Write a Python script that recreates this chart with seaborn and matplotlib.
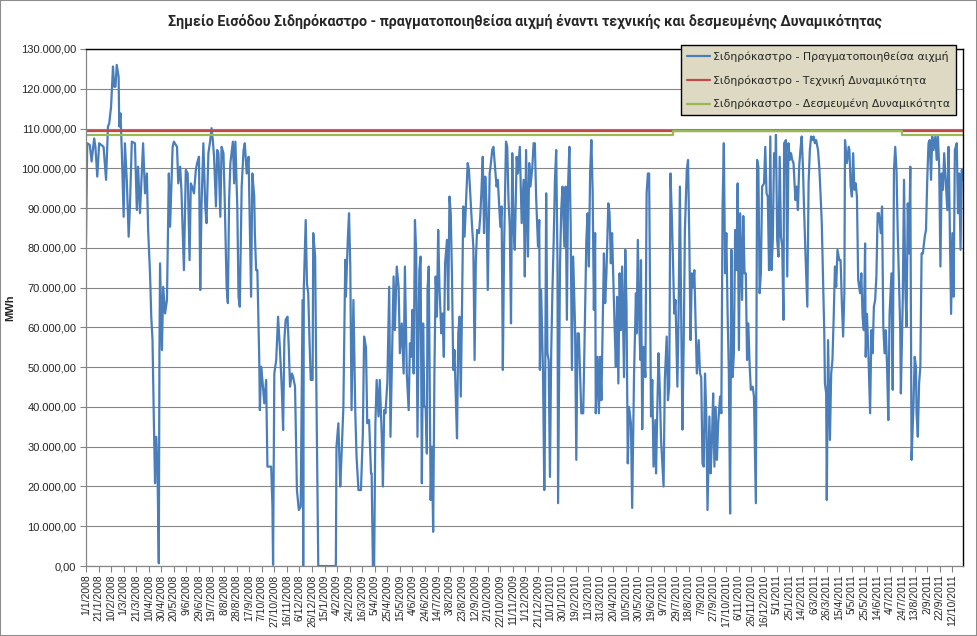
import matplotlib
matplotlib.use("Agg")
import pandas as pd
import matplotlib.pyplot as plt
import matplotlib.patches as patches
import seaborn as sns
from matplotlib.ticker import FuncFormatter, MultipleLocator

# Daily peak at Sidirokastro entry point (days since 1/1/2008, thousand MWh)
start = pd.Timestamp("2008-01-01")
end = pd.Timestamp("2011-10-29")

day = [
    0, 2, 6, 9, 13, 15, 18, 21, 28, 32, 35, 37, 40, 43, 45, 47, 49, 52, 53, 55, 57, 60, 62, 65, 68, 70,
    73, 78, 81, 83, 86, 89, 91, 94, 97, 99, 102, 104, 106, 108, 110, 112, 114, 116, 117, 118, 121, 123,
    126, 129, 132, 134, 138, 140, 145, 147, 150, 152, 156, 159,
    162, 165, 167, 169, 172, 175, 177, 180, 182, 184, 187, 190, 192, 195, 198, 200, 202, 204, 207, 209,
    211, 214, 216, 219, 221, 224, 226, 228, 230, 234, 236, 238, 241, 243, 245, 248, 251, 253, 256, 259,
    261, 263, 265, 268, 269, 271, 273, 276, 277, 279, 281, 284, 287, 289, 295, 297, 298, 300, 303, 306,
    309, 312, 314, 316, 318, 321, 323, 325, 328, 330, 333, 336, 339, 342,
    345, 346, 347, 350, 352, 354, 356, 358, 361, 362, 365, 367, 370, 398, 399, 402, 405, 407, 410, 413,
    414, 417, 419, 421, 423, 426, 429, 431, 434, 438, 441, 443, 446, 448, 451, 454, 455, 457, 459, 461,
    463, 466, 468, 471, 473, 475, 477, 480, 483, 485, 487, 490, 492, 495, 498, 500, 503, 506, 508,
    511, 514, 516, 518, 520, 522, 524, 526, 528, 531, 533, 535, 537, 539, 541, 543, 544, 546, 549, 551,
    553, 555, 557, 559, 561, 563, 566, 568, 570, 572, 575, 577, 579, 581, 583, 585, 587, 589, 591, 593,
    595, 597, 599, 601, 603, 605, 608, 610, 612, 615, 617, 619, 621, 623, 626, 628, 630, 632, 634, 636,
    638, 640, 643, 645, 647, 649, 652, 654, 656, 658, 660, 662, 664, 666, 669, 671, 673, 675, 677, 679,
    681, 683, 686, 688,
    691, 694, 697, 699, 701, 704, 706, 708, 711, 713, 715, 717, 720, 722, 723, 725, 728, 730, 731, 733,
    735, 737, 739, 741, 743, 745, 747, 749, 751, 752, 755, 757, 759, 762, 764, 766, 768, 770, 772, 774,
    776, 779, 781, 783, 785, 787, 789, 792, 794, 797, 799, 801, 803, 805, 807, 809, 811, 812, 815, 817,
    819, 821, 823, 825, 827, 829, 832, 834, 836, 838, 840, 842, 844, 846, 848, 850, 852, 854, 857, 859,
    861, 863, 865,
    868, 870, 873, 876, 877, 879, 881, 883, 884, 886, 888, 891, 893, 895, 897, 899, 900, 902, 904, 907,
    908, 910, 912, 914, 916, 918, 920, 922, 925, 927, 929, 931, 933, 935, 937, 939, 942, 944, 946, 948,
    950, 952, 954, 957, 959, 961, 963, 965, 967, 969, 971, 973, 976, 978, 980, 982, 984, 986, 988, 990,
    993, 995, 997, 999, 1001, 1003, 1005, 1007, 1010, 1012, 1014, 1016, 1018, 1020, 1022, 1024, 1026,
    1028, 1030, 1032, 1034, 1036, 1038, 1040,
    1042, 1045, 1047, 1049, 1051, 1053, 1055, 1057, 1059, 1062, 1064, 1066, 1067, 1069, 1071, 1073, 1075,
    1077, 1080, 1082, 1084, 1086, 1088, 1090, 1092, 1094, 1096, 1098, 1099, 1101, 1103, 1105, 1107, 1109,
    1111, 1112, 1115, 1117, 1119, 1121, 1123, 1125, 1127, 1130, 1132, 1134, 1136, 1138, 1140, 1142, 1144,
    1146, 1149, 1151, 1153, 1155, 1157, 1159, 1161, 1163, 1166, 1168, 1170, 1172, 1174, 1176, 1177, 1179,
    1180, 1182, 1184, 1185, 1187, 1189, 1191, 1193, 1195, 1197, 1200, 1202, 1204, 1206, 1208, 1209,
    1212, 1215, 1216, 1218, 1220, 1222, 1224, 1226, 1228, 1230, 1233, 1235, 1237, 1239, 1241, 1242, 1244,
    1246, 1249, 1251, 1253, 1255, 1257, 1259, 1261, 1263, 1266, 1268, 1270, 1272, 1274, 1276, 1278, 1280,
    1283, 1285, 1287, 1289, 1291, 1293, 1295, 1297, 1298, 1301, 1303, 1305, 1307, 1309, 1311, 1313, 1315,
    1318, 1320, 1322, 1323, 1325, 1327, 1329, 1331, 1333, 1336, 1338, 1340, 1342, 1344, 1346, 1348, 1350,
    1353, 1355, 1357, 1359, 1361, 1363, 1365, 1367, 1370, 1372, 1374, 1376, 1378, 1380, 1382, 1384, 1387,
    1389, 1391, 1393, 1395, 1397,
]

peak_k = [
    81.1, 106.3, 105.9, 101.7, 107.5, 105.4, 97.9, 106.3, 105.4, 97.1, 110.5, 111.3, 115.5, 125.6, 120.5,
    120.5, 126.0, 123.0, 110.5, 113.8, 104.6, 87.8, 106.3, 97.1, 82.8, 90.4,
    106.7, 106.3, 89.5, 100.4, 88.7, 99.6, 106.3, 93.7, 98.7, 84.5, 73.6, 62.7, 56.8, 37.6, 20.8, 32.5,
    23.3, 0.7, 53.5, 76.1, 54.3, 70.2,
    63.5, 66.9, 98.7, 85.3, 105.4, 106.7, 105.4, 96.2, 100.4, 94.6, 74.4, 99.6,
    98.7, 76.9, 96.2, 95.4, 93.7, 99.6, 101.3, 102.9, 69.4, 90.4, 106.3, 90.4, 86.2, 103.8, 107.1, 110.1,
    107.1, 102.9, 90.4, 104.6,
    103.8, 87.8, 105.4, 103.8, 92.0, 70.2, 66.1, 92.0, 101.3, 106.7, 96.2, 106.7, 90.4, 67.7, 65.2, 95.4,
    104.6, 106.3, 98.7, 102.9,
    85.3, 67.7, 98.7, 92.9, 83.7, 74.4, 74.4, 51.8, 39.2, 50.1, 46.8, 40.9, 46.8, 25.0, 25.0, 14.9, 0.3,
    48.4, 51.8, 62.7,
    54.3, 44.3, 34.2, 56.8, 61.9, 62.7, 55.1, 45.1, 48.4, 47.5, 45.1, 19.1, 14.1, 14.9,
    66.9, 0.0, 70.0, 87.0, 71.0, 68.6, 57.0, 46.8, 46.8, 83.7, 77.8, 44.3, 0.0, 0.0, 30.0, 35.9, 20.0,
    27.5, 40.0, 77.0,
    67.7, 82.0, 88.7, 75.3, 39.2, 66.9, 38.4, 27.5, 19.1, 19.1, 33.4, 57.7, 55.0, 35.9, 36.7, 23.3, 23.3,
    0.0, 0.0, 35.9,
    46.8, 37.6, 46.8, 33.4, 20.0, 39.2, 38.4, 46.1, 70.2, 32.5, 48.4, 72.8, 59.3, 75.3, 70.2, 53.5, 61.0,
    48.4, 75.3,
    48.4, 39.2, 56.0, 52.6, 64.4, 48.4, 87.0, 78.6, 32.5, 74.4, 77.8, 20.8, 61.0, 40.0, 40.0, 28.3, 69.4,
    75.3, 16.6, 30.0,
    8.6, 48.4, 72.8, 62.7, 84.5, 70.2, 58.5, 63.5, 52.6, 76.1, 82.0, 64.4, 92.9, 88.7, 72.8, 49.3, 54.3,
    42.6, 32.1, 58.5,
    62.7, 42.6, 65.2, 90.4, 82.8, 90.4, 101.3, 99.6, 93.7, 85.3, 80.3, 51.8, 76.9, 84.5, 83.7, 87.8, 94.6,
    102.9, 83.7, 97.9,
    90.4, 69.4, 98.7, 101.3, 104.6, 105.4, 99.6, 95.4, 97.1, 91.2, 85.3, 90.4, 49.3, 80.3, 106.7, 105.4,
    92.0, 85.3, 61.0, 103.8,
    85.3, 79.5, 102.9, 98.7,
    105.4, 86.2, 97.1, 72.8, 104.6, 77.8, 101.3, 95.4, 100.4, 106.3, 106.3, 92.9, 80.3, 87.0, 49.3, 69.4,
    48.4, 19.1, 31.7, 93.7,
    53.5, 51.8, 22.4, 53.5, 69.4, 82.0, 97.1, 104.6, 76.9, 15.8, 75.3, 89.5, 95.4, 80.3, 95.4, 61.9, 96.2,
    105.4, 86.2, 49.3,
    77.8, 60.2, 26.7, 58.5, 58.5, 48.4, 38.4, 38.4, 55.1, 82.0, 88.7, 75.3, 98.7, 107.1, 94.6, 64.4, 83.7,
    38.4, 52.6, 38.4,
    52.6, 41.7, 61.0, 78.6, 66.1, 73.6, 91.2, 88.7, 76.1, 83.7, 71.9, 60.2, 50.1, 67.7, 45.9, 73.6, 59.3,
    75.3, 47.5, 79.5,
    65.2, 25.8, 40.0,
    35.9, 14.6, 48.4, 68.6, 58.5, 82.0, 62.7, 51.8, 76.9, 34.4, 55.1, 47.5, 93.7, 98.7, 98.7, 56.8, 37.6,
    46.8, 25.0, 36.7,
    23.3, 39.2, 53.5, 44.3, 31.7, 25.8, 20.0, 46.8, 57.7, 41.7, 45.1, 98.7, 88.7, 76.9, 63.5, 66.9, 45.1,
    64.3, 95.4, 63.5,
    34.3, 55.0, 84.5, 99.6, 102.1, 82.0, 56.8, 73.6, 70.2, 74.4, 61.9, 48.4, 56.8, 48.4, 47.5, 25.8, 25.0,
    48.4, 38.4, 14.1,
    37.6, 23.3, 31.7, 43.4, 25.0, 40.0, 26.7, 35.9, 42.6, 38.4, 90.4, 106.3, 73.6, 83.7, 63.5, 48.4, 13.2,
    79.5, 47.5, 53.5, 84.5, 74.4, 96.2, 54.3,
    88.7, 66.9, 88.0, 73.6, 73.6, 51.8, 61.0, 50.9, 44.3, 45.1, 42.6, 25.0, 15.8, 102.1, 100.4, 68.6, 73.6,
    95.4, 96.2, 105.4, 93.7, 92.9, 74.4, 108.0, 74.4, 82.0, 103.8, 100.4, 108.4, 82.0, 77.8, 102.9, 82.8,
    80.3,
    61.9, 106.3, 107.1, 72.8, 106.3, 102.1, 103.8, 102.1, 101.3, 92.0, 95.4, 89.5, 100.4, 104.6, 108.0,
    100.4, 88.7,
    78.6, 65.2, 96.2, 104.6, 108.0, 107.1, 108.0, 106.3, 107.1, 104.6, 100.4, 93.7, 86.2, 71.9, 58.5, 45.9,
    43.4,
    16.6, 56.8, 40.0, 31.7, 48.4, 51.8, 62.7, 75.3, 70.2, 79.5, 76.9, 76.9, 66.1, 57.7, 68.6, 107.1,
    101.3, 105.4, 104.6, 95.4, 92.9, 103.8, 94.6, 96.2, 92.9, 71.9, 68.6, 73.6, 62.7, 59.3, 81.1, 52.6, 63.4,
    55.0, 38.4, 59.3, 53.5, 65.2, 66.9, 72.8, 88.7, 88.7, 83.7, 90.4, 60.2, 53.5, 59.3, 50.1, 36.7, 63.4,
    73.6, 44.3, 99.6, 105.4, 99.6, 83.7, 71.9, 59.3, 43.4, 66.9, 97.1, 70.2, 60.2, 91.2, 78.6, 100.4, 26.7,
    40.0, 52.6, 50.1, 38.4, 32.5, 45.9, 50.1, 78.6, 78.6, 82.8, 84.5, 97.1, 106.3, 107.1, 97.1, 108.0, 104.6,
    108.0, 102.1, 108.0, 100.4, 75.3, 98.7, 94.6, 103.8, 95.4, 89.5, 105.4, 83.7, 63.4, 83.7, 67.7, 104.6,
    106.3,
    88.7, 98.7, 79.5, 99.6, 97.1,
]

technical_capacity = 109400
committed_from = ["2008-01-01", "2010-07-24", "2011-07-24"]
committed_capacity = [108300, 109400, 108300]

labels = [
    "Σιδηρόκαστρο - Πραγματοποιηθείσα αιχμή",
    "Σιδηρόκαστρο - Τεχνική Δυναμικότητα",
    "Σιδηρόκαστρο - Δεσμευμένη Δυναμικότητα",
]
title = "Σημείο Εισόδου Σιδηρόκαστρο - πραγματοποιηθείσα αιχμή έναντι τεχνικής και δεσμευμένης Δυναμικότητας"

df = pd.DataFrame({"date": start + pd.to_timedelta(day, unit="D"), "peak": [v * 1000 for v in peak_k]})
cap = pd.DataFrame({"date": [start, end], "tech": [technical_capacity] * 2})
com = pd.DataFrame({
    "date": pd.to_datetime(committed_from + [end.strftime("%Y-%m-%d")]),
    "committed": committed_capacity + [committed_capacity[-1]],
})

sns.set_style("white")
plt.rcParams["font.family"] = ["Liberation Sans", "DejaVu Sans"]

fig = plt.figure(figsize=(9.77, 6.36), dpi=100)
ax = fig.add_axes([0.088, 0.110, 0.8977, 0.813])

sns.lineplot(data=df, x="date", y="peak", ax=ax, color="#4a7ebb", lw=1.6, label=labels[0])
sns.lineplot(data=cap, x="date", y="tech", ax=ax, color="#be4b48", lw=1.6, label=labels[1])
ax.plot(com["date"], com["committed"], drawstyle="steps-post", color="#98b954", lw=1.6, label=labels[2])

ax.set_xlim(start, end)
ax.set_ylim(0, 130000)
ax.yaxis.set_major_locator(MultipleLocator(10000))
ax.yaxis.set_major_formatter(FuncFormatter(
    lambda v, p: f"{v:,.2f}".replace(",", "X").replace(".", ",").replace("X", ".")))

ticks = pd.date_range(start, end, freq="20D")
ax.set_xticks(ticks)
ax.set_xticklabels([f"{d.day}/{d.month}/{d.year}" for d in ticks], rotation=90, fontsize=7.5)
ax.tick_params(axis="y", labelsize=8, length=4, width=0.8, color="#868686", left=True, pad=3)
ax.tick_params(axis="x", length=4, width=0.8, color="#868686", bottom=True, pad=2)

ax.grid(axis="y", color="#868686", lw=0.8)
ax.set_axisbelow(True)
for s in ["left", "bottom"]:
    ax.spines[s].set_color("#868686")
    ax.spines[s].set_linewidth(0.9)
for s in ["top", "right"]:
    ax.spines[s].set_visible(True)
    ax.spines[s].set_color("black")
    ax.spines[s].set_linewidth(1.0)

ax.set_xlabel("")
ax.set_ylabel("MWh", fontsize=8, fontweight="bold", labelpad=4)
ax.set_title(title, fontsize=10.3, fontweight="bold", family=["Roboto", "DejaVu Sans"], pad=17)

leg = ax.legend(loc="upper right", bbox_to_anchor=(0.992, 1.008), borderaxespad=0, fancybox=False,
                framealpha=1, facecolor="#ddd9c3", edgecolor="black",
                prop={"family": "DejaVu Sans", "size": 7.8},
                handlelength=2.1, labelspacing=1.2, borderpad=0.55, handletextpad=0.3)
leg.get_frame().set_linewidth(1.0)

fig.patches.append(patches.Rectangle((0, 0), 1, 1, transform=fig.transFigure, fill=False,
                                     edgecolor="#8c8c8c", lw=1.5))

fig.savefig("out.png", dpi=100)
